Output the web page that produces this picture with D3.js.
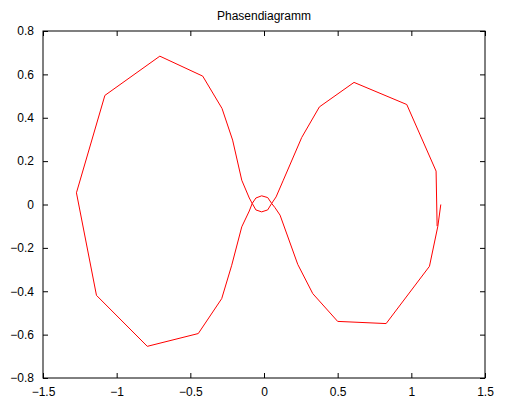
<!DOCTYPE html>
<html>
<head>
<meta charset="utf-8">
<script src="https://cdn.jsdelivr.net/npm/d3@7"></script>
<style>
  body { margin: 0; background: #fff; }
  text { font-family: "Liberation Sans", Arial, sans-serif; fill: #000; }
</style>
</head>
<body>
<svg id="chart" width="508" height="399"></svg>
<script>
// phase path, position (x) and velocity (v)
var posX = [1.20, 1.18, 1.123, 0.829, 0.50, 0.331, 0.229, 0.109, 0.075, 0.052, 0.025, -0.016, -0.055, -0.080,
  -0.10, -0.151, -0.219, -0.287, -0.446, -0.792, -1.137, -1.273, -1.080, -0.707, -0.416, -0.285, -0.213,
  -0.151, -0.10, -0.080, -0.055, -0.016, 0.025, 0.052, 0.082, 0.131, 0.256, 0.376, 0.611, 0.969, 1.168, 1.175];
var velV = [0.00, -0.10, -0.285, -0.549, -0.539, -0.411, -0.276, -0.049, -0.015, 0.005, 0.032, 0.040, 0.030, 0.005,
  -0.03, -0.103, -0.280, -0.434, -0.595, -0.654, -0.419, 0.054, 0.503, 0.684, 0.592, 0.443, 0.297,
  0.112, 0.03, 0.005, -0.025, -0.034, -0.025, 0.005, 0.035, 0.112, 0.309, 0.450, 0.563, 0.461, 0.154, -0.10];
var xTicks = [-1.5, -1, -0.5, 0, 0.5, 1, 1.5];
var yTicks = [-0.8, -0.6, -0.4, -0.2, 0, 0.2, 0.4, 0.6, 0.8];
var title = "Phasendiagramm";

var margin = {top: 31, right: 23, bottom: 21, left: 43};
var width = 508 - margin.left - margin.right;
var height = 399 - margin.top - margin.bottom;

var svg = d3.select("#chart");
var g = svg.append("g").attr("transform", "translate(" + margin.left + "," + margin.top + ")");

var x = d3.scaleLinear().domain([-1.5, 1.5]).range([0, width]);
var y = d3.scaleLinear().domain([-0.8, 0.8]).range([height, 0]);

var fmt = function(d) { return String(d).replace("-", "\u2212"); };

// axes, ticks pointing inward like matlab
g.append("g").attr("transform", "translate(0," + height + ")")
  .call(d3.axisBottom(x).tickValues(xTicks).tickSizeInner(-5).tickSizeOuter(0).tickPadding(9).tickFormat(fmt));
g.append("g")
  .call(d3.axisTop(x).tickValues(xTicks).tickSizeInner(-5).tickSizeOuter(0).tickFormat(""));
g.append("g")
  .call(d3.axisLeft(y).tickValues(yTicks).tickSizeInner(-5).tickSizeOuter(0).tickPadding(9).tickFormat(fmt));
g.append("g").attr("transform", "translate(" + width + ",0)")
  .call(d3.axisRight(y).tickValues(yTicks).tickSizeInner(-5).tickSizeOuter(0).tickFormat(""));

g.selectAll(".tick text").style("font-size", "12px").style("font-family", "Liberation Sans, Arial, sans-serif");
g.selectAll(".domain").remove();

g.append("rect")
  .attr("width", width).attr("height", height)
  .attr("fill", "none").attr("stroke", "#000").attr("stroke-width", 1);

// curve
var pts = posX.map(function(d, i) { return [d, velV[i]]; });
var line = d3.line()
  .x(function(d) { return x(d[0]); })
  .y(function(d) { return y(d[1]); });

g.append("path")
  .datum(pts)
  .attr("d", line)
  .attr("fill", "none")
  .attr("stroke", "#ff0000")
  .attr("stroke-width", 1);

// title
svg.append("text")
  .attr("x", margin.left + width / 2)
  .attr("y", 20)
  .attr("text-anchor", "middle")
  .style("font-size", "12px")
  .text(title);
</script>
</body>
</html>
